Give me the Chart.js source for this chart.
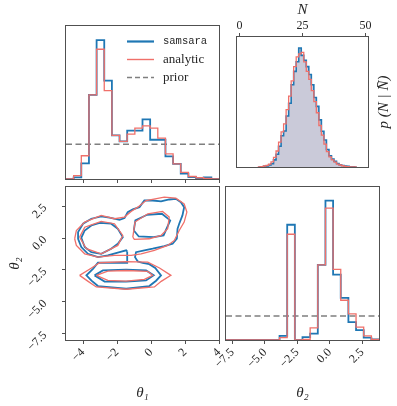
<!DOCTYPE html>
<html><head><meta charset="utf-8">
<script src="https://cdn.jsdelivr.net/npm/chart.js@4/dist/chart.umd.min.js"></script>
<style>
html,body{margin:0;padding:0;background:#fff;}
#wrap{position:relative;width:397px;height:406px;overflow:hidden;}
#wrap canvas{position:absolute;left:0;top:0;}
</style></head><body>
<div id="wrap">
<canvas id="cTL" width="397" height="406"></canvas>
<canvas id="cTR" width="397" height="406"></canvas>
<canvas id="cBL" width="397" height="406"></canvas>
<canvas id="cBR" width="397" height="406"></canvas>
</div>
<script>
// ---------------- DATA ----------------
// theta1 marginal (20 bins over theta1Range), density
const theta1Range = [-5, 4];
const theta1Ticks = [-4, -2, 0, 2, 4];
const theta1Samsara  = [0, 0.005, 0.050, 0.268, 0.442, 0.313, 0.139, 0.120, 0.154, 0.154, 0.190, 0.125, 0.125, 0.072, 0.048, 0.017, 0.006, 0.003, 0.005, 0];
const theta1Analytic = [0, 0.011, 0.074, 0.268, 0.413, 0.281, 0.139, 0.120, 0.143, 0.162, 0.169, 0.162, 0.130, 0.080, 0.048, 0.021, 0.008, 0.004, 0.002, 0];
const theta1Prior = 0.111;

// theta2 marginal (20 bins over theta2HistRange), density
const theta2HistRange = [-8, 3.8];
const theta2AxisRange = [-8, 4];
const theta2Ticks = [-7.5, -5, -2.5, 0, 2.5];
const theta2Samsara  = [0, 0, 0, 0, 0, 0, 0, 0.014, 0.400, 0, 0.010, 0.022, 0.261, 0.484, 0.227, 0.146, 0.062, 0.034, 0.008, 0.002];
const theta2Analytic = [0, 0, 0, 0, 0, 0, 0, 0.008, 0.367, 0, 0.002, 0.042, 0.261, 0.458, 0.245, 0.138, 0.091, 0.045, 0.014, 0.002];
const theta2Prior = 0.0833;

// N posterior predictive p(N | N-bar), unit bins
const nValues = [8,9,10,11,12,13,14,15,16,17,18,19,20,21,22,23,24,25,26,27,28,29,30,31,32,33,34,35,36,37,38,39,40,41,42,43,44,45,46];
const nSamsara  = [0.0000,0.0002,0.0005,0.0007,0.0014,0.0023,0.0050,0.0090,0.0146,0.0221,0.0254,0.0360,0.0450,0.0581,0.0675,0.0743,0.0840,0.0788,0.0754,0.0709,0.0653,0.0581,0.0491,0.0428,0.0333,0.0252,0.0191,0.0124,0.0079,0.0056,0.0041,0.0025,0.0016,0.0011,0.0007,0.0005,0.0002,0.0001,0.0000];
const nAnalytic = [0.0001,0.0003,0.0007,0.0011,0.0020,0.0036,0.0068,0.0113,0.0176,0.0248,0.0304,0.0405,0.0500,0.0608,0.0709,0.0777,0.0799,0.0810,0.0743,0.0675,0.0619,0.0540,0.0461,0.0383,0.0293,0.0225,0.0162,0.0108,0.0072,0.0050,0.0034,0.0020,0.0014,0.0009,0.0005,0.0002,0.0001,0.0000,0.0000];
const nRange = [-1, 51];
const nTicks = [0, 25, 50];

// 2D contours (theta1, theta2)
const samsaraOuter = [[-1.40,-1.05],[-1.46,-0.97],[-1.85,-1.11],[-2.54,-1.37],[-3.12,-1.50],[-3.71,-1.24],[-4.10,-0.71],[-4.29,-0.06],[-4.29,0.46],[-4.00,1.12],[-3.51,1.51],[-2.93,1.69],[-2.44,1.59],[-1.85,1.43],[-1.56,1.56],[-1.37,2.03],[-1.07,2.24],[-0.68,2.42],[-0.39,2.94],[0.10,2.94],[0.59,2.87],[1.07,3.02],[1.46,3.07],[1.76,2.81],[1.95,2.42],[1.85,1.77],[1.66,1.12],[1.56,0.72],[1.52,-0.06],[1.27,-0.45],[0.78,-0.63],[0.10,-0.84],[-0.39,-0.97],[-0.88,-1.11],[-0.94,-1.50],[-0.78,-1.84],[-0.49,-1.96],[-0.10,-2.05],[0.25,-2.35],[0.59,-2.93],[0.30,-3.35],[-0.10,-3.77],[-1.46,-3.98],[-3.12,-3.77],[-3.50,-3.35],[-3.80,-2.93],[-3.40,-2.40],[-3.12,-1.94],[-1.40,-1.94]];
const samsaraInnerLeft = [[-4.10,0.02],[-3.90,0.59],[-3.51,0.98],[-3.02,1.19],[-2.34,1.12],[-1.95,0.72],[-1.66,0.07],[-1.95,-0.45],[-2.34,-0.84],[-2.93,-1.24],[-3.51,-1.11],[-3.90,-0.71]];
const samsaraInnerRight = [[-1.01,0.59],[-0.92,1.38],[-0.23,1.82],[0.64,1.90],[1.13,1.38],[0.74,0.20],[0.16,0.07],[-0.72,0.12]];
const samsaraInnerLow = [[-3.32,-2.93],[-2.83,-2.54],[-1.46,-2.48],[-0.29,-2.54],[0.16,-2.93],[-0.29,-3.33],[-1.46,-3.42],[-2.73,-3.41]];
const analyticOuterUp = [[-4.49,-0.06],[-4.39,0.59],[-3.90,1.25],[-2.93,1.77],[-2.15,1.51],[-1.56,1.64],[-1.17,2.08],[-0.78,2.42],[-0.29,2.94],[0.78,3.21],[1.46,3.13],[1.95,2.68],[2.11,2.03],[1.95,1.25],[1.66,0.59],[1.37,-0.19],[0.98,-0.58],[0.20,-0.97],[-0.58,-1.24],[-1.17,-1.37],[-2.15,-1.37],[-3.12,-1.50],[-3.90,-1.24],[-4.39,-0.58]];
const analyticOuterLow = [[-4.20,-2.93],[-3.50,-2.35],[-3.02,-1.94],[-1.46,-1.85],[-0.19,-1.89],[0.50,-2.35],[1.17,-2.93],[0.60,-3.40],[0.20,-3.84],[-1.46,-4.02],[-3.22,-3.84],[-3.70,-3.40]];
const analyticInnerLeft = [[-4.20,0.07],[-3.90,0.85],[-2.93,1.30],[-2.15,1.12],[-1.66,0.20],[-1.95,-0.58],[-2.93,-1.24],[-3.80,-0.84]];
const analyticInnerRight = [[-1.07,0.07],[-0.94,1.25],[-0.19,1.90],[0.68,2.08],[1.07,1.64],[0.98,0.72],[0.59,0.20],[-0.10,-0.06],[-0.98,-0.11]];
const analyticInnerLow = [[-3.22,-2.93],[-2.54,-2.60],[-1.46,-2.55],[-0.19,-2.62],[0.10,-2.93],[-0.39,-3.25],[-1.46,-3.38],[-2.54,-3.33]];

const legendLabels = ['samsara', 'analytic', 'prior'];

// ---------------- STYLE ----------------
const BLUE = '#1f77b4', RED = '#f0706a', DASH = '#7f7f7f', FILL = 'rgba(150,150,180,0.5)';
const AX = '#505050', TXT = '#262626';
const SERIF = '"Liberation Serif", "DejaVu Serif", serif';
const TICK_PX = 12;
const TICK_FONT = {family: SERIF, size: TICK_PX};
const TITLE_FONT = {family: SERIF, size: 15, style: 'italic'};
const measureCtx = document.createElement('canvas').getContext('2d');
function textW(s){ measureCtx.font = TICK_PX + 'px "Liberation Serif"'; return measureCtx.measureText(s).width; }
const MINUS = '\u2212';
const fmtInt = v => (v < 0 ? MINUS : '') + Math.abs(v);
const fmt1 = v => (v < 0 ? MINUS : '') + Math.abs(v).toFixed(1);
const offX = f => c => (c && c.tick) ? 0.3536 * textW(f(c.tick.value)) : 0;
const offY = f => c => (c && c.tick) ? -0.3536 * textW(f(c.tick.value)) : 0;

function histPoints(lo, hi, vals){
  const w = (hi - lo) / vals.length;
  const pts = [{x: lo, y: 0}];
  vals.forEach((v, i) => pts.push({x: lo + i * w, y: v}));
  pts.push({x: hi, y: 0});
  return pts;
}
function unitHist(xs, vals){
  const pts = [{x: xs[0] - 0.5, y: 0}];
  xs.forEach((n, i) => pts.push({x: n - 0.5, y: vals[i]}));
  pts.push({x: xs[xs.length - 1] + 0.5, y: 0});
  return pts;
}
const closed = arr => arr.concat([arr[0]]).map(p => ({x: p[0], y: p[1]}));

const framePlugin = {
  id: 'frame',
  afterDatasetsDraw(chart){
    const a = chart.chartArea, c = chart.ctx;
    c.save(); c.strokeStyle = AX; c.lineWidth = 1;
    const l = Math.round(a.left) - 0.5, t = Math.round(a.top) - 0.5;
    c.strokeRect(l, t, Math.round(a.right) - Math.round(a.left) + 1, Math.round(a.bottom) - Math.round(a.top) + 1);
    c.restore();
  }
};
const gridTicks = {display: true, drawOnChartArea: false, drawTicks: true, tickLength: 4, tickColor: AX, tickWidth: 1, color: AX};
const common = {responsive: false, animation: false, devicePixelRatio: 1,
  plugins: {legend: {display: false}, tooltip: {enabled: false}, filler: {drawTime: 'beforeDatasetsDraw'}},
  elements: {point: {radius: 0}, line: {tension: 0}}};
function opts(extra){ return Object.assign({}, common, extra); }
const stepDs = (data, color, w, extra) => Object.assign({data, showLine: true, stepped: 'before', borderColor: color, borderWidth: w, pointRadius: 0, fill: false}, extra || {});

// ---------------- TOP LEFT: theta1 ----------------
const legendPlugin = {
  id: 'cornerLegend',
  afterDraw(chart){
    const c = chart.ctx;
    const rows = [
      {y: 41.5, color: BLUE, w: 2.2, dash: [], font: '10.5px "Liberation Mono", "DejaVu Sans Mono", monospace'},
      {y: 59.5, color: RED, w: 1.4, dash: [], font: '13px ' + SERIF},
      {y: 77.5, color: DASH, w: 1.5, dash: [5, 3], font: '13px ' + SERIF}
    ];
    rows.forEach((r, i) => {
      c.save();
      c.strokeStyle = r.color; c.lineWidth = r.w; c.setLineDash(r.dash);
      c.beginPath(); c.moveTo(127, r.y); c.lineTo(154, r.y); c.stroke();
      c.setLineDash([]);
      c.fillStyle = TXT; c.font = r.font; c.textBaseline = 'middle'; c.textAlign = 'left';
      c.fillText(legendLabels[i], 163, r.y);
      c.restore();
    });
  }
};
new Chart(document.getElementById('cTL'), {
  type: 'scatter',
  data: {datasets: [
    stepDs(histPoints(theta1Range[0], theta1Range[1], theta1Analytic), RED, 1.3),
    stepDs(histPoints(theta1Range[0], theta1Range[1], theta1Samsara), BLUE, 1.8),
    {data: [{x: theta1Range[0], y: theta1Prior}, {x: theta1Range[1], y: theta1Prior}], showLine: true, borderColor: DASH, borderWidth: 1.5, borderDash: [6, 3.5], pointRadius: 0}
  ]},
  options: opts({
    layout: {padding: {left: 66, top: 26, right: 178, bottom: 223}, autoPadding: false},
    scales: {
      x: {type: 'linear', min: theta1Range[0], max: theta1Range[1],
        afterBuildTicks: s => { s.ticks = theta1Ticks.map(v => ({value: v})); },
        afterFit: s => { s.height = 4; },
        ticks: {display: false}, grid: gridTicks, border: {display: false}},
      y: {display: false, min: 0, max: 0.487}
    }
  }),
  plugins: [framePlugin, legendPlugin]
});

// ---------------- TOP RIGHT: N ----------------
const ylabelPlugin = {
  id: 'rightLabel',
  afterDraw(chart){
    const c = chart.ctx;
    c.save(); c.translate(384, 102); c.rotate(-Math.PI / 2);
    c.fillStyle = TXT; c.font = 'italic 15px ' + SERIF; c.textAlign = 'center'; c.textBaseline = 'middle';
    c.fillText('p (N | N\u0304)', 0, 0);
    c.restore();
  }
};
new Chart(document.getElementById('cTR'), {
  type: 'scatter',
  data: {datasets: [
    stepDs(unitHist(nValues, nSamsara), 'rgba(0,0,0,0)', 0, {fill: 'origin', backgroundColor: FILL}),
    stepDs(unitHist(nValues, nAnalytic), RED, 1.3),
    stepDs(unitHist(nValues, nSamsara), BLUE, 1.6)
  ]},
  options: opts({
    layout: {padding: {left: 237, top: 0, right: 29, bottom: 239}, autoPadding: false},
    scales: {
      x: {type: 'linear', position: 'top', min: nRange[0], max: nRange[1],
        afterBuildTicks: s => { s.ticks = nTicks.map(v => ({value: v})); },
        afterFit: s => { s.height = 37; },
        ticks: {autoSkip: false, minRotation: 0, maxRotation: 0, padding: 0, font: TICK_FONT, color: TXT, callback: v => String(v)},
        grid: gridTicks, border: {display: false},
        title: {display: true, text: 'N', font: TITLE_FONT, color: TXT, padding: {top: 1, bottom: 0}}},
      y: {display: false, min: 0, max: 0.0918}
    }
  }),
  plugins: [framePlugin, ylabelPlugin]
});

// ---------------- BOTTOM LEFT: contours ----------------
const cont = (arr, color, w) => ({data: closed(arr), showLine: true, borderColor: color, borderWidth: w, pointRadius: 0, fill: false});
new Chart(document.getElementById('cBL'), {
  type: 'scatter',
  data: {datasets: [
    cont(analyticOuterUp, RED, 1.3), cont(analyticOuterLow, RED, 1.3), cont(analyticInnerLeft, RED, 1.3),
    cont(analyticInnerRight, RED, 1.3), cont(analyticInnerLow, RED, 1.3),
    cont(samsaraOuter, BLUE, 1.8), cont(samsaraInnerLeft, BLUE, 1.8), cont(samsaraInnerRight, BLUE, 1.8), cont(samsaraInnerLow, BLUE, 1.8)
  ]},
  options: opts({
    layout: {padding: {left: 0, top: 187, right: 178, bottom: 0}, autoPadding: false},
    scales: {
      x: {type: 'linear', position: 'bottom', min: theta1Range[0], max: theta1Range[1],
        afterBuildTicks: s => { s.ticks = theta1Ticks.map(v => ({value: v})); },
        afterFit: s => { s.height = 66; },
        ticks: {autoSkip: false, minRotation: 45, maxRotation: 45, padding: 1.5, font: TICK_FONT, color: TXT,
          callback: v => fmtInt(v), labelOffset: offX(fmtInt)},
        grid: gridTicks, border: {display: false},
        title: {display: true, text: 'θ₁', font: TITLE_FONT, color: TXT, padding: {top: 0, bottom: 4}}},
      y: {type: 'linear', position: 'left', min: theta2AxisRange[0], max: theta2AxisRange[1],
        afterBuildTicks: s => { s.ticks = theta2Ticks.map(v => ({value: v})); },
        afterFit: s => { s.width = 66; },
        ticks: {autoSkip: false, minRotation: 45, maxRotation: 45, padding: 17, font: TICK_FONT, color: TXT,
          callback: v => fmt1(v), labelOffset: offY(fmt1)},
        grid: gridTicks, border: {display: false},
        title: {display: true, text: 'θ₂', font: TITLE_FONT, color: TXT, padding: {top: 6, bottom: 0}}}
    }
  }),
  plugins: [framePlugin]
});

// ---------------- BOTTOM RIGHT: theta2 ----------------
new Chart(document.getElementById('cBR'), {
  type: 'scatter',
  data: {datasets: [
    stepDs(histPoints(theta2HistRange[0], theta2HistRange[1], theta2Analytic), RED, 1.3),
    stepDs(histPoints(theta2HistRange[0], theta2HistRange[1], theta2Samsara), BLUE, 1.8),
    {data: [{x: theta2HistRange[0], y: theta2Prior}, {x: theta2HistRange[1], y: theta2Prior}], showLine: true, borderColor: DASH, borderWidth: 1.5, borderDash: [6, 3.5], pointRadius: 0}
  ]},
  options: opts({
    layout: {padding: {left: 226, top: 187, right: 18, bottom: 0}, autoPadding: false},
    scales: {
      x: {type: 'linear', position: 'bottom', min: theta2HistRange[0], max: theta2HistRange[1],
        afterBuildTicks: s => { s.ticks = theta2Ticks.map(v => ({value: v})); },
        afterFit: s => { s.height = 66; },
        ticks: {autoSkip: false, minRotation: 45, maxRotation: 45, padding: 1.5, font: TICK_FONT, color: TXT,
          callback: v => fmt1(v), labelOffset: offX(fmt1)},
        grid: gridTicks, border: {display: false},
        title: {display: true, text: 'θ₂', font: TITLE_FONT, color: TXT, padding: {top: 0, bottom: 4}}},
      y: {display: false, min: 0, max: 0.531}
    }
  }),
  plugins: [framePlugin]
});
</script>
</body></html>
